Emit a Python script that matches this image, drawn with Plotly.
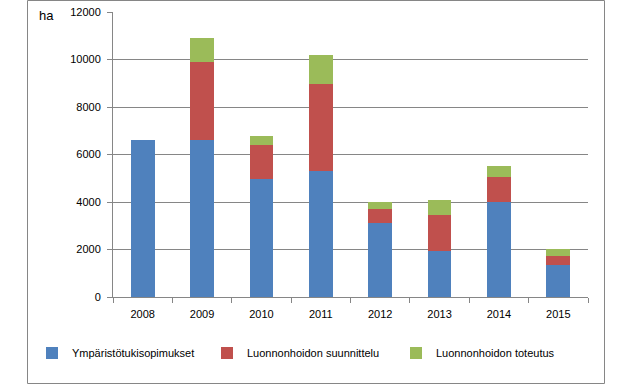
import plotly.graph_objects as go

years = ["2008", "2009", "2010", "2011", "2012", "2013", "2014", "2015"]
ymparisto = [6620, 6620, 4980, 5290, 3130, 1950, 4020, 1360]
suunnittelu = [0, 3290, 1430, 3690, 590, 1490, 1020, 380]
toteutus = [0, 1010, 380, 1220, 270, 660, 460, 300]
names = ["Ympäristötukisopimukset", "Luonnonhoidon suunnittelu", "Luonnonhoidon toteutus"]
colors = ["#4F81BD", "#C0504D", "#9BBB59"]
y_ticks = [0, 2000, 4000, 6000, 8000, 10000, 12000]
y_labels = ["0", "2000", "4000", "6000", "8000", "10000", "12000"]

W, H = 630, 385
L, R, T, B = 113, 588, 12, 297

fig = go.Figure()
for i, (vals, nm, col) in enumerate(zip([ymparisto, suunnittelu, toteutus], names, colors)):
    fig.add_trace(go.Bar(x=years, y=vals, name=nm, marker=dict(color=col, line=dict(width=0)),
                         showlegend=True,
                         legend="legend" if i == 0 else f"legend{i+1}"))

def px(xp):
    return (xp - L) / (R - L)

def py(yp):
    return (B - yp) / (B - T)

font = dict(family="Liberation Sans, Arial, sans-serif", size=11, color="#000000")
leg = lambda xpix: dict(xref="container", yref="container", x=xpix / W, y=1 - 353 / H,
                        xanchor="left", yanchor="middle",
                        orientation="h", font=font, bgcolor="rgba(0,0,0,0)",
                        itemwidth=30, tracegroupgap=0)

fig.update_layout(
    width=W, height=H,
    showlegend=True,
    margin=dict(l=L, r=W - R, t=T, b=H - B, autoexpand=False),
    barmode="stack", bargap=0.6,
    plot_bgcolor="white", paper_bgcolor="white",
    font=font,
    legend=leg(32),
    legend2=leg(207),
    legend3=leg(396),
    xaxis=dict(type="category", showline=True, linecolor="#868686", linewidth=1,
               ticks="outside", tickson="boundaries", ticklen=5, tickcolor="#868686",
               ticklabelstandoff=7,
               showgrid=False, tickfont=font, automargin=False),
    yaxis=dict(range=[0, 12000], tickvals=y_ticks, ticktext=y_labels, showline=True,
               linecolor="#868686", linewidth=1, ticks="outside", ticklen=5,
               tickcolor="#868686", showgrid=True, gridcolor="#868686", gridwidth=1,
               ticklabelstandoff=4,
               zeroline=False, tickfont=font, automargin=False),
    shapes=[dict(type="rect", xref="paper", yref="paper",
                 x0=px(27.5), x1=px(604.5), y0=py(383.5), y1=py(0.5),
                 line=dict(color="#868686", width=1), fillcolor="rgba(0,0,0,0)")],
    annotations=[dict(text="ha", xref="paper", yref="paper", x=px(37), y=py(15),
                      xanchor="left", yanchor="middle", showarrow=False,
                      font=dict(family="Liberation Sans, Arial, sans-serif", size=13, color="#000"))],
)

fig.write_html("out.html", config={"displayModeBar": False},
               post_script="document.body.style.margin='0';document.body.style.overflow='hidden';")
